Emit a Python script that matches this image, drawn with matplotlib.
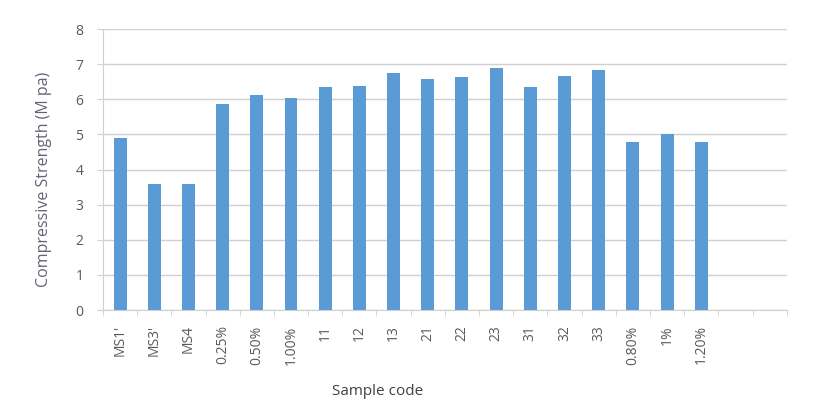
import numpy as np
import matplotlib.pyplot as plt
from matplotlib.ticker import FixedLocator, NullFormatter

# sample codes (last two slots are empty in the original sheet)
codes = ["MS1'", "MS3'", "MS4", "0.25%", "0.50%", "1.00%", "11", "12", "13",
         "21", "22", "23", "31", "32", "33", "0.80%", "1%", "1.20%", "", ""]
strength = [4.9, 3.6, 3.6, 5.88, 6.13, 6.04, 6.36, 6.39, 6.76,
            6.58, 6.64, 6.9, 6.36, 6.68, 6.83, 4.8, 5.0, 4.8]

plt.rcParams['font.family'] = ['Open Sans', 'DejaVu Sans']
txt = '#595959'
grid = '#d0d0d0'

fig = plt.figure(figsize=(8.3, 4.11), dpi=100)
ax = fig.add_axes([0.124, 0.2457, 0.824, 0.6833])

x = np.arange(len(codes))
ax.bar(x[:len(strength)], strength, width=0.38, color='#5b9bd5', zorder=3)

ax.set_xlim(-0.5, len(codes) - 0.5)
ax.set_ylim(0, 8)
ax.set_yticks(range(0, 9))
ax.yaxis.grid(True, color=grid, linewidth=1, zorder=0)

ax.set_xticks(x)
ax.set_xticklabels(codes, rotation=90, fontsize=10, color=txt)
ax.xaxis.set_minor_locator(FixedLocator(np.arange(-0.5, len(codes), 1)))
ax.xaxis.set_minor_formatter(NullFormatter())
ax.tick_params(axis='x', which='major', length=0, pad=11)
ax.tick_params(axis='x', which='minor', length=4, color=grid, direction='out')
ax.tick_params(axis='y', length=4, color=grid, labelsize=10, labelcolor=txt, pad=10)

for s in ['top', 'right']:
    ax.spines[s].set_visible(False)
ax.spines['left'].set_color(grid)
ax.spines['bottom'].set_color(grid)

ax.set_ylabel('Compressive Strength (M pa)', fontsize=11.5, color='#6a5f78')
ax.yaxis.set_label_coords(-0.074, 0.466)
ax.set_xlabel('Sample code', fontsize=11, color='#404040')
ax.xaxis.set_label_coords(0.402, -0.265)

fig.savefig('out.png', dpi=100, facecolor='white')
